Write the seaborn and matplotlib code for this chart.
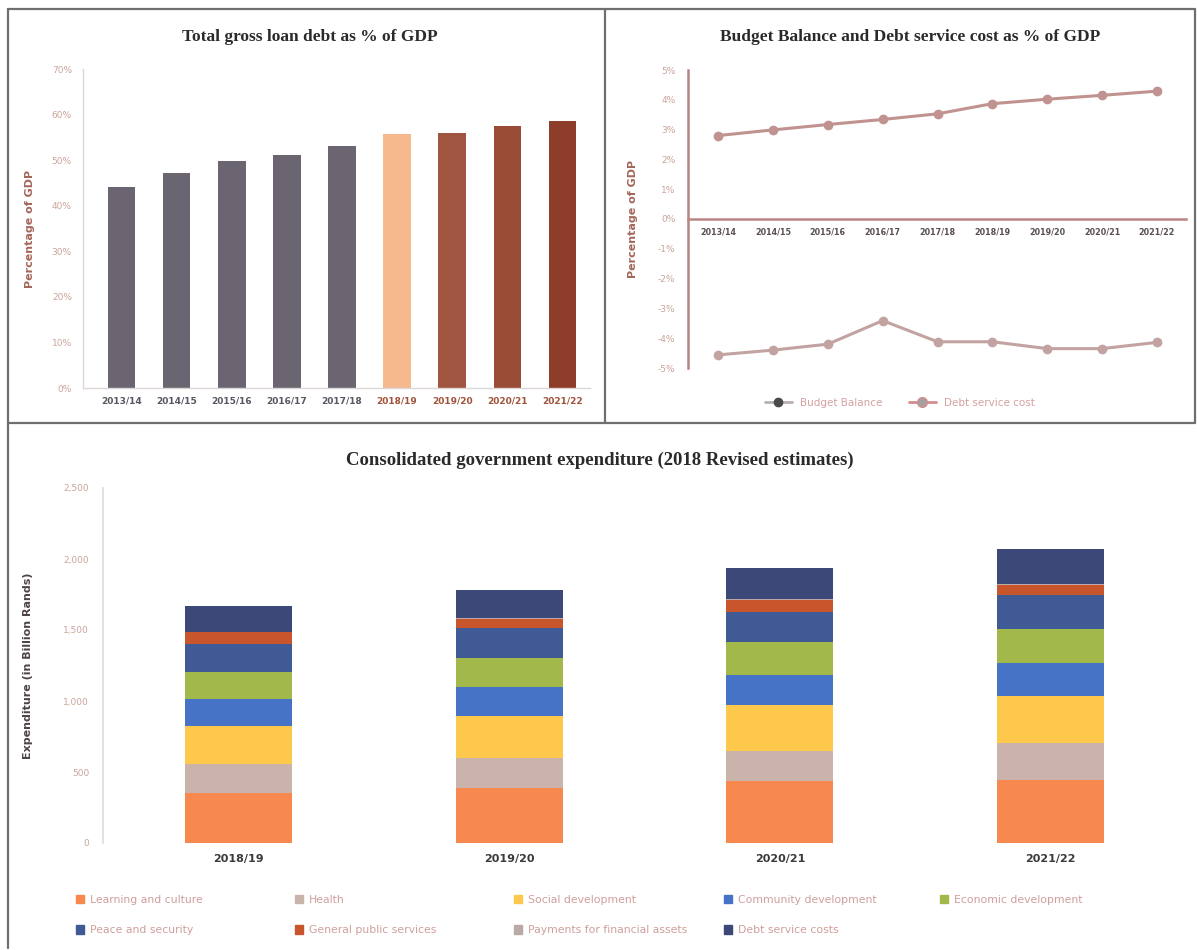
import matplotlib
matplotlib.use("Agg")
import matplotlib.pyplot as plt
import seaborn as sns
import pandas as pd
from matplotlib.lines import Line2D
from matplotlib.ticker import FuncFormatter

sns.set_theme(style="white")
plt.rcParams["font.family"] = ["DejaVu Sans"]

# ---------------- data ----------------
debt_years = ["2013/14", "2014/15", "2015/16", "2016/17", "2017/18",
              "2018/19", "2019/20", "2020/21", "2021/22"]
debt_pct = [44.1, 47.1, 49.8, 51.1, 53.0, 55.7, 55.9, 57.5, 58.6]
debt_colors = ["#6b6571", "#6b6571", "#6b6571", "#6b6571", "#6b6571",
               "#f6b98e", "#9f5540", "#9a4b36", "#8e3d2a"]
debt_label_colors = ["#5a5560"] * 5 + ["#a0523a"] * 4

balance_years = debt_years
budget_balance = [-4.56, -4.40, -4.20, -3.41, -4.12, -4.12, -4.35, -4.35, -4.14]
debt_service = [2.80, 2.99, 3.17, 3.34, 3.53, 3.87, 4.02, 4.15, 4.29]

exp_years = ["2018/19", "2019/20", "2020/21", "2021/22"]
functions = ["Learning and culture", "Health", "Social development",
             "Community development", "Economic development",
             "Peace and security", "General public services",
             "Payments for financial assets", "Debt service costs"]
learning = [352, 387, 434, 446]
health = [204, 211, 211, 258]
social = [270, 293, 329, 328]
community = [188, 207, 211, 235]
economic = [192, 207, 230, 239]
peace = [195, 211, 215, 242]
general = [82, 63, 82, 70]
payments = [4, 4, 4, 4]
debt_costs = [183, 199, 223, 246]
exp_values = [learning, health, social, community, economic,
              peace, general, payments, debt_costs]
exp_colors = ["#f7894f", "#c9b3ab", "#fdc84c", "#4673c6", "#a3b84b",
              "#3f5a95", "#c8552b", "#b9aaa8", "#3b4878"]

# ---------------- figure ----------------
W, H = 1197, 950
fig = plt.figure(figsize=(W / 100, H / 100), dpi=100)
fig.patch.set_facecolor("white")


def box(left, top, right, bottom):
    return [left / W, 1 - bottom / H, (right - left) / W, (bottom - top) / H]


title_font = dict(family="Liberation Serif", weight="bold", color="#2a2a2a")
light_tick = "#c9a49b"

# panel frames
frame_kw = dict(color="#6e6e6e", lw=1.6, transform=fig.transFigure)
for (x0, y0, x1, y1) in [(8, 9, 1195, 9), (8, 9, 8, 948), (605, 9, 605, 423),
                         (8, 423, 1195, 423), (1195, 9, 1195, 423)]:
    fig.add_artist(Line2D([x0 / W, x1 / W], [1 - y0 / H, 1 - y1 / H], **frame_kw))

# ---------------- chart 1: total gross loan debt ----------------
ax1 = fig.add_axes(box(83, 69, 590, 388))
df1 = pd.DataFrame({"year": debt_years, "pct": debt_pct})
sns.barplot(data=df1, x="year", y="pct", hue="year", palette=debt_colors,
            legend=False, width=0.5, saturation=1, linewidth=0, ax=ax1)
ax1.set_xlim(-0.7, 8.5)
ax1.set_ylim(0, 70)
ax1.set_yticks(range(0, 71, 10))
ax1.yaxis.set_major_formatter(FuncFormatter(lambda v, p: f"{v:.0f}%"))
ax1.tick_params(axis="y", labelsize=6.5, labelcolor=light_tick, length=0, pad=8)
ax1.tick_params(axis="x", labelsize=6.5, length=0, pad=6)
for lbl, c in zip(ax1.get_xticklabels(), debt_label_colors):
    lbl.set_color(c)
    lbl.set_fontweight("bold")
for s in ["top", "right"]:
    ax1.spines[s].set_visible(False)
for s in ["left", "bottom"]:
    ax1.spines[s].set_color("#dcd6d6")
    ax1.spines[s].set_linewidth(1.0)
ax1.set_xlabel("")
ax1.set_ylabel("Percentage of GDP", fontsize=8, fontweight="bold",
               color="#a4665a", labelpad=12)
fig.text(310 / W, 1 - 37 / H, "Total gross loan debt as % of GDP",
         ha="center", va="center", fontsize=12.5, **title_font)

# ---------------- chart 2: budget balance and debt service ----------------
ax2 = fig.add_axes(box(688, 70, 1186, 368))
df2 = pd.DataFrame({
    "year": balance_years * 2,
    "value": budget_balance + debt_service,
    "series": ["Budget Balance"] * len(balance_years)
              + ["Debt service cost"] * len(balance_years),
})
sns.lineplot(data=df2, x="year", y="value", hue="series", sort=False,
             palette={"Budget Balance": "#c3a2a2", "Debt service cost": "#c09290"},
             marker="o", markersize=7, linewidth=2.2, markeredgewidth=0,
             legend=False, ax=ax2)
ax2.set_xlim(-0.55, 8.53)
ax2.set_ylim(-5, 5)
ax2.set_yticks(range(-5, 6))
ax2.yaxis.set_major_formatter(FuncFormatter(lambda v, p: f"{v:.0f}%"))
ax2.spines["bottom"].set_position(("data", 0))
for s in ["top", "right"]:
    ax2.spines[s].set_visible(False)
for s in ["left", "bottom"]:
    ax2.spines[s].set_color("#b98482")
    ax2.spines[s].set_linewidth(1.8)
ax2.tick_params(axis="y", labelsize=6.5, labelcolor=light_tick, length=3,
                color="#b98482", pad=6)
ax2.tick_params(axis="x", labelsize=5.8, length=0, pad=6, labelcolor="#5a5050")
for lbl in ax2.get_xticklabels():
    lbl.set_fontweight("bold")
ax2.set_xlabel("")
ax2.set_ylabel("Percentage of GDP", fontsize=8, fontweight="bold",
               color="#a4665a", labelpad=14)
fig.text(910 / W, 1 - 37 / H, "Budget Balance and Debt service cost as % of GDP",
         ha="center", va="center", fontsize=12.5, **title_font)
h_bal = Line2D([], [], color="#b9b0b0", lw=2, marker="o", markersize=6,
               markerfacecolor="#4a4a4a", markeredgecolor="#4a4a4a")
h_dsc = Line2D([], [], color="#d28c8c", lw=2, marker="o", markersize=7,
               markerfacecolor="#a8a0a0", markeredgecolor="#d28c8c")
leg2 = fig.legend([h_bal, h_dsc], ["Budget Balance", "Debt service cost"],
                  loc="center", bbox_to_anchor=(900 / W, 1 - 403 / H), ncol=2,
                  frameon=False, fontsize=7.5, handlelength=2.6, columnspacing=2.5)
for t in leg2.get_texts():
    t.set_color("#d4a0a0")

# ---------------- chart 3: consolidated expenditure ----------------
ax3 = fig.add_axes(box(103, 488, 1186, 843))
cum = []
running = [0] * len(exp_years)
for vals in exp_values:
    running = [r + v for r, v in zip(running, vals)]
    cum.append(running)
# draw the tallest cumulative layer first so lower layers sit on top
for level in range(len(functions) - 1, -1, -1):
    df3 = pd.DataFrame({"year": exp_years, "total": cum[level]})
    sns.barplot(data=df3, x="year", y="total", color=exp_colors[level],
                width=0.395, saturation=1, linewidth=0, ax=ax3)
ax3.set_xlim(-0.5, 3.5)
ax3.set_ylim(0, 2500)
ax3.set_yticks(range(0, 2501, 500))
ax3.yaxis.set_major_formatter(FuncFormatter(lambda v, p: f"{v:,.0f}"))
ax3.tick_params(axis="y", labelsize=6.5, labelcolor=light_tick, length=0, pad=10)
ax3.tick_params(axis="x", labelsize=8, length=0, pad=8, labelcolor="#3a3a3a")
for lbl in ax3.get_xticklabels():
    lbl.set_fontweight("bold")
for s in ["top", "right", "bottom"]:
    ax3.spines[s].set_visible(False)
ax3.spines["left"].set_color("#e2dcdc")
ax3.set_xlabel("")
ax3.set_ylabel("Expenditure (in Billion Rands)", fontsize=8, fontweight="bold",
               color="#4e4444", labelpad=22)
fig.text(600 / W, 1 - 460 / H,
         "Consolidated government expenditure (2018 Revised estimates)",
         ha="center", va="center", fontsize=13.5, **title_font)

# legend laid out row-wise in five fixed columns
handles3 = [plt.Rectangle((0, 0), 1, 1, color=c) for c in exp_colors]
col_x = [68, 287, 506, 716, 932]
for col, x in enumerate(col_x):
    idx = [i for i in (col, col + 5) if i < len(functions)]
    leg = fig.legend([handles3[i] for i in idx], [functions[i] for i in idx],
                     loc="upper left", bbox_to_anchor=(x / W, 1 - 887 / H),
                     ncol=1, frameon=False, fontsize=7.8, handlelength=0.8,
                     handleheight=0.8, handletextpad=0.5, labelspacing=1.9,
                     borderpad=0.2)
    for t in leg.get_texts():
        t.set_color("#cf9f9c")

fig.savefig("out.png", dpi=100, facecolor="white")
